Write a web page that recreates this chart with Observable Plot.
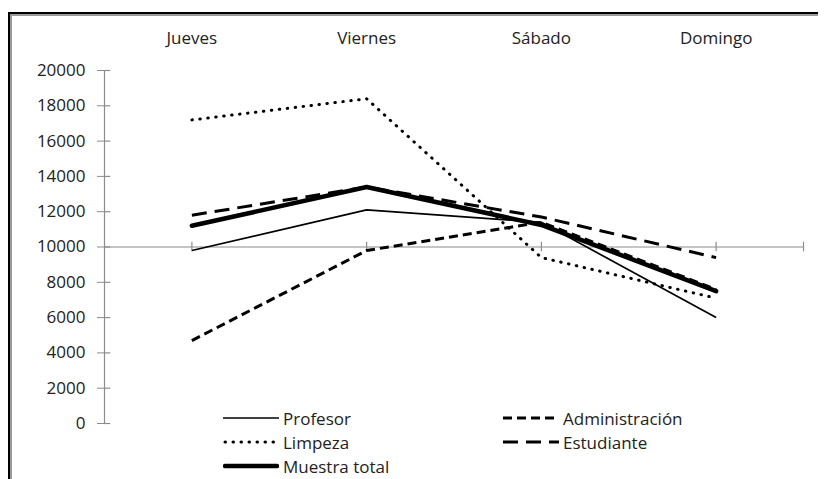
<!DOCTYPE html>
<html><head><meta charset="utf-8">
<script src="https://cdn.jsdelivr.net/npm/d3@7"></script>
<script src="https://cdn.jsdelivr.net/npm/@observablehq/plot@0.6"></script>
<style>
html,body{margin:0;background:#fff;overflow:hidden;}
#wrap{position:relative;width:826px;height:479px;overflow:hidden;font-family:"Open Sans",sans-serif;
  background:
    linear-gradient(#000,#000) 8px 12px / 810px 2px no-repeat,
    linear-gradient(#9a9a9a,#9a9a9a) 10px 14px / 808px 2px no-repeat,
    linear-gradient(#000,#000) 8px 12px / 2px 467px no-repeat,
    linear-gradient(#9a9a9a,#9a9a9a) 10px 14px / 2px 465px no-repeat,
    #fff;}
#chart{position:absolute;left:0;top:0;}
.leg{position:absolute;display:flex;align-items:center;font-size:17px;color:#222;height:24px;white-space:nowrap;}
.leg svg{margin-right:4px;}
</style></head><body>
<div id="wrap">
  <div id="chart"></div><div id="legend"></div>
</div>
<script>
const days = ["Jueves", "Viernes", "Sábado", "Domingo"];
const yTicks = [0, 2000, 4000, 6000, 8000, 10000, 12000, 14000, 16000, 18000, 20000];
const profesor = [9800, 12100, 11400, 6000];
const administracion = [4700, 9800, 11400, 7600];
const limpieza = [17200, 18400, 9400, 7100];
const estudiante = [11800, 13400, 11700, 9400];
const muestraTotal = [11200, 13400, 11250, 7500];

const series = [
  {name: "Profesor", values: profesor, width: 1.7, dash: null, cap: "butt"},
  {name: "Administración", values: administracion, width: 3, dash: "9 5", cap: "butt"},
  {name: "Limpeza", values: limpieza, width: 3, dash: "0.5 7.5", cap: "round"},
  {name: "Estudiante", values: estudiante, width: 3, dash: "15 8", cap: "butt"},
  {name: "Muestra total", values: muestraTotal, width: 4.5, dash: null, cap: "round"}
];
const rows = series.flatMap(s => days.map((d, i) => ({serie: s.name, x: i + 0.5, v: s.values[i]})));
const gray = "#8c8c8c";
const txt = "#222";

const chart = Plot.plot({
  width: 826,
  height: 479,
  marginLeft: 104,
  marginRight: 23,
  marginTop: 70,
  marginBottom: 56,
  style: {fontFamily: "'Open Sans', sans-serif", fontSize: "17px", background: "transparent", color: txt},
  x: {domain: [0, 4]},
  y: {domain: [0, 20000]},
  marks: [
    Plot.ruleY([10000], {x1: 0, x2: 4, stroke: gray, strokeWidth: 1.2}),
    Plot.ruleX([0.5, 1.5, 2.5, 3.5, 4], {y1: 9730, y2: 10270, stroke: gray, strokeWidth: 1.2}),
    Plot.ruleX([0], {y1: 0, y2: 20000, stroke: gray, strokeWidth: 1.2}),
    Plot.ruleY(yTicks, {x1: 0, x2: 0.036, stroke: gray, strokeWidth: 1.2}),
    Plot.axisY({ticks: yTicks, tickSize: 7, tickPadding: 12, stroke: gray, fill: txt, label: null, tickFormat: d => String(d), fontSize: 17}),
    Plot.axisX({anchor: "top", ticks: [0.5, 1.5, 2.5, 3.5], tickFormat: d => days[Math.round(d - 0.5)], tickSize: 0, tickPadding: 27, label: null, fill: txt, fontSize: 17}),
    ...series.map(s => Plot.line(rows.filter(r => r.serie === s.name), {
      x: "x", y: "v", stroke: "#000", strokeWidth: s.width,
      strokeDasharray: s.dash || undefined, strokeLinecap: s.cap, strokeLinejoin: "round"
    }))
  ]
});
document.getElementById("chart").appendChild(chart);

// legend
const legendPos = [
  {name: "Profesor", left: 223, top: 418},
  {name: "Administración", left: 503, top: 418},
  {name: "Limpeza", left: 223, top: 442},
  {name: "Estudiante", left: 503, top: 442},
  {name: "Muestra total", left: 223, top: 466}
];
const legend = document.getElementById("legend");
for (const p of legendPos) {
  const s = series.find(d => d.name === p.name);
  const el = document.createElement("div");
  el.className = "leg";
  el.style.left = p.left + "px";
  el.style.top = (p.top - 12) + "px";
  el.innerHTML = `<svg width="56" height="10"><line x1="${s.cap === 'round' ? 2 : 0}" y1="5" x2="${s.cap === 'round' ? 54 : 56}" y2="5" stroke="#000" stroke-width="${s.width}" ${s.dash ? `stroke-dasharray="${s.dash}"` : ""} stroke-linecap="${s.cap}"/></svg><span>${s.name}</span>`;
  legend.appendChild(el);
}
</script>
</body></html>
